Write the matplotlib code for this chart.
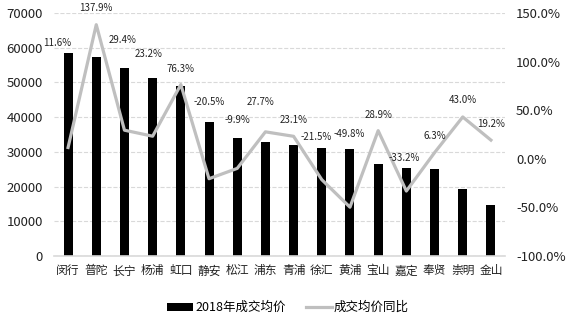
import numpy as np
import matplotlib
matplotlib.use('Agg')
import matplotlib.pyplot as plt
from matplotlib.ticker import FuncFormatter

plt.rcParams['font.family'] = ['Noto Sans CJK SC', 'DejaVu Sans']

# 各区成交均价与同比
districts = ['闵行', '普陀', '长宁', '杨浦', '虹口', '静安', '松江', '浦东',
             '青浦', '徐汇', '黄浦', '宝山', '嘉定', '奉贤', '崇明', '金山']
price = [58500, 57400, 54200, 51300, 49000, 38600, 34100, 32700,
         32000, 31100, 30800, 26500, 25400, 25100, 19300, 14700]
yoy = [11.6, 137.9, 29.4, 23.2, 76.3, -20.5, -9.9, 27.7,
       23.1, -21.5, -49.8, 28.9, -33.2, 6.3, 43.0, 19.2]

# 标签相对折线点的偏移（像素）
lbl_dx = [-11, 0, -2, -4, 0, 0, 0, -5, 0, -6, -1, 0, -2, 0, 0, 0]
lbl_dy = [104, 17, 90, 82, 16, 77, 48, 30, 16, 43, 73, 16, 33, 17, 17, 16]

fig = plt.figure(figsize=(5.7, 3.23), dpi=100)
ax = fig.add_axes([0.0947, 0.2074, 0.7913, 0.7526])
ax2 = ax.twinx()

x = np.arange(len(districts))
ax.bar(x, price, width=0.32, color='black', label='2018年成交均价', zorder=2)
ax.set_ylim(0, 70000)
ax.set_yticks(range(0, 70001, 10000))
ax.set_xlim(-0.5, len(districts) - 0.5)
ax.set_xticks(x)
ax.set_xticklabels(districts, fontsize=8.5, color='#222222')
ax.tick_params(axis='x', length=0, pad=6)
ax.tick_params(axis='y', length=0, labelsize=9.5, labelcolor='#222222', pad=8)
ax.grid(axis='y', color='#D9D9D9', linestyle='--', linewidth=0.8, zorder=0)
ax.set_axisbelow(True)

for s in ['top', 'left', 'right']:
    ax.spines[s].set_visible(False)
    ax2.spines[s].set_visible(False)
ax.spines['bottom'].set_color('#D9D9D9')
ax.spines['bottom'].set_linewidth(1.2)
ax2.spines['bottom'].set_visible(False)

ax2.plot(x, yoy, color='#BFBFBF', linewidth=2.3, label='成交均价同比', zorder=3)
ax2.set_ylim(-100, 150)
ax2.set_yticks(range(-100, 151, 50))
ax2.yaxis.set_major_formatter(FuncFormatter(lambda v, p: f'{v:.1f}%'))
ax2.tick_params(axis='y', length=0, labelsize=9.5, labelcolor='#222222', pad=8)

for i, v in enumerate(yoy):
    ax2.annotate(f'{v:.1f}%', (x[i], v), xytext=(lbl_dx[i], lbl_dy[i]),
                 textcoords='offset pixels', ha='center', va='center',
                 fontsize=7, color='#222222')

h1, l1 = ax.get_legend_handles_labels()
h2, l2 = ax2.get_legend_handles_labels()
fig.legend(h1 + h2, l1 + l2, loc='center', bbox_to_anchor=(0.505, 0.048),
           ncol=2, frameon=False, fontsize=9, handlelength=2.1,
           handleheight=0.6, columnspacing=1.6, handletextpad=0.15)

fig.savefig('out.png', dpi=100)
